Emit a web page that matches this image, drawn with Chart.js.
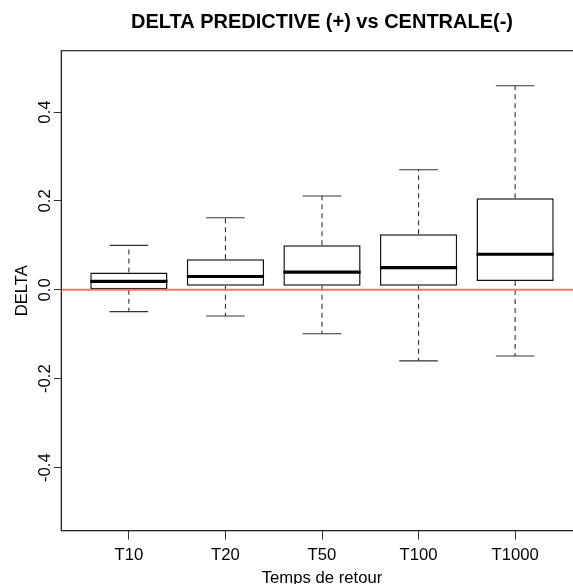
<!DOCTYPE html>
<html>
<head>
<meta charset="utf-8">
<script src="https://cdn.jsdelivr.net/npm/chart.js@4/dist/chart.umd.min.js"></script>
<style>
  html, body { margin: 0; padding: 0; overflow: hidden; background: #fff; }
  canvas { display: block; }
</style>
</head>
<body>
<canvas id="chart" width="600" height="584"></canvas>
<script>
// values
var categories = ["T10", "T20", "T50", "T100", "T1000"];
var whiskerLow = [-0.049, -0.059, -0.099, -0.160, -0.149];
var q1 = [0.000, 0.009, 0.009, 0.009, 0.020];
var medians = [0.019, 0.030, 0.040, 0.050, 0.080];
var q3 = [0.039, 0.069, 0.100, 0.125, 0.206];
var whiskerHigh = [0.100, 0.162, 0.211, 0.270, 0.459];
var yTicks = [-0.4, -0.2, 0.0, 0.2, 0.4];

var FONT = "'Liberation Sans', Arial, sans-serif";

var boxData = categories.map(function(c, i) {
    return { x: i + 1, y: [q1[i], q3[i]] };
});

// whiskers, medians, zero line, frame and R-style labels
var boxExtras = {
    id: 'boxExtras',
    afterDatasetsDraw: function(chart) {
        var ctx = chart.ctx;
        var a = chart.chartArea;
        var x = chart.scales.x;
        var y = chart.scales.y;
        var half = (x.getPixelForValue(1.4) - x.getPixelForValue(1)); // box half width (0.4)
        var cap = half / 2;

        ctx.save();
        categories.forEach(function(c, i) {
            var cx = x.getPixelForValue(i + 1);

            // dashed whiskers
            ctx.strokeStyle = '#333';
            ctx.lineWidth = 1.1;
            ctx.setLineDash([5, 4]);
            ctx.beginPath();
            ctx.moveTo(cx, y.getPixelForValue(q3[i]));
            ctx.lineTo(cx, y.getPixelForValue(whiskerHigh[i]));
            ctx.moveTo(cx, y.getPixelForValue(q1[i]));
            ctx.lineTo(cx, y.getPixelForValue(whiskerLow[i]));
            ctx.stroke();
            ctx.setLineDash([]);

            // staples
            ctx.beginPath();
            ctx.moveTo(cx - cap, y.getPixelForValue(whiskerHigh[i]));
            ctx.lineTo(cx + cap, y.getPixelForValue(whiskerHigh[i]));
            ctx.moveTo(cx - cap, y.getPixelForValue(whiskerLow[i]));
            ctx.lineTo(cx + cap, y.getPixelForValue(whiskerLow[i]));
            ctx.stroke();

            // median
            ctx.strokeStyle = '#000';
            ctx.lineWidth = 3.2;
            ctx.beginPath();
            ctx.moveTo(cx - half, y.getPixelForValue(medians[i]));
            ctx.lineTo(cx + half, y.getPixelForValue(medians[i]));
            ctx.stroke();
        });

        // red line at zero
        ctx.strokeStyle = '#ff7070';
        ctx.lineWidth = 2;
        ctx.beginPath();
        ctx.moveTo(a.left, y.getPixelForValue(0));
        ctx.lineTo(a.right, y.getPixelForValue(0));
        ctx.stroke();

        // frame
        ctx.strokeStyle = '#222';
        ctx.lineWidth = 1.2;
        ctx.strokeRect(a.left, a.top, a.right - a.left, a.bottom - a.top);

        // tick labels
        ctx.fillStyle = '#000';
        ctx.font = '16.7px ' + FONT;
        ctx.textAlign = 'center';
        ctx.textBaseline = 'alphabetic';
        categories.forEach(function(c, i) {
            ctx.fillText(c, x.getPixelForValue(i + 1), 560);
        });
        yTicks.forEach(function(v) {
            ctx.save();
            ctx.translate(50, y.getPixelForValue(v));
            ctx.rotate(-Math.PI / 2);
            ctx.fillText(v.toFixed(1), 0, 0);
            ctx.restore();
        });

        // axis titles
        ctx.fillText('Temps de retour', (a.left + a.right) / 2, 583);
        ctx.save();
        ctx.translate(27, (a.top + a.bottom) / 2);
        ctx.rotate(-Math.PI / 2);
        ctx.fillText('DELTA', 0, 0);
        ctx.restore();

        // main title
        ctx.font = 'bold 20px ' + FONT;
        ctx.fillText('DELTA PREDICTIVE (+) vs CENTRALE(-)', (a.left + a.right) / 2, 27.7);
        ctx.restore();
    }
};

var ctx = document.getElementById('chart');
var chart = new Chart(ctx, {
    type: 'bar',
    data: {
        datasets: [{
            data: boxData,
            backgroundColor: '#ffffff',
            borderColor: '#111',
            borderWidth: 1.5,
            borderSkipped: false,
            categoryPercentage: 0.8,
            barPercentage: 1.0
        }]
    },
    options: {
        responsive: false,
        animation: false,
        layout: { padding: { left: 0, right: 17.3, top: 50.7, bottom: 0 } },
        plugins: {
            legend: { display: false },
            title: { display: false },
            tooltip: { enabled: false }
        },
        scales: {
            x: {
                type: 'linear',
                min: 0.3,
                max: 5.7,
                offset: false,
                afterBuildTicks: function(scale) {
                    scale.ticks = categories.map(function(c, i) { return { value: i + 1 }; });
                },
                afterFit: function(scale) { scale.height = 53.3; },
                ticks: { display: false },
                grid: { offset: false, drawOnChartArea: false, drawTicks: true, tickLength: 9, color: '#333' },
                border: { display: true, color: '#222' }
            },
            y: {
                min: -0.542,
                max: 0.538,
                afterBuildTicks: function(scale) {
                    scale.ticks = yTicks.map(function(v) { return { value: v }; });
                },
                afterFit: function(scale) { scale.width = 61.3; },
                ticks: { display: false },
                grid: { drawOnChartArea: false, drawTicks: true, tickLength: 7.5, color: '#333' },
                border: { display: true, color: '#222' }
            }
        }
    },
    plugins: [boxExtras]
});
</script>
</body>
</html>
